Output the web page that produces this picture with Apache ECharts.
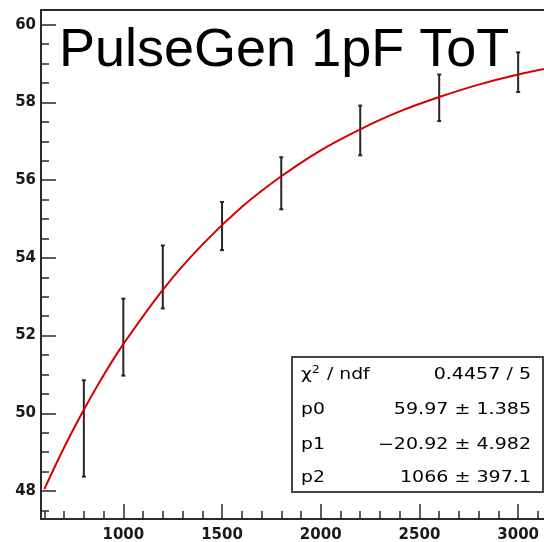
<!DOCTYPE html>
<html>
<head>
<meta charset="utf-8">
<script src="https://cdn.jsdelivr.net/npm/echarts@6/dist/echarts.min.js"></script>
<style>html,body{margin:0;padding:0;background:#fff;}#c{width:544px;height:542px;}</style>
</head>
<body>
<div id="c"></div>
<script>
// ---- data ----
var pointX = [800, 1000, 1200, 1500, 1800, 2200, 2600, 3000];
var pointY = [49.61, 51.96, 53.51, 54.82, 55.92, 57.28, 58.12, 58.78];
var pointErr = [1.24, 0.99, 0.81, 0.62, 0.67, 0.64, 0.60, 0.51];

var fitX = [600, 700, 800, 900, 1000, 1200, 1400, 1600, 1800, 2000, 2200, 2400, 2600, 2800, 3000, 3200];
var fitY = [48.05, 49.12, 50.09, 50.98, 51.78, 53.18, 54.34, 55.31, 56.10, 56.77, 57.31, 57.77, 58.14, 58.46, 58.72, 58.93];

var xMajorTicks = [1000, 1500, 2000, 2500, 3000];
var xMinorTicks = [600, 700, 800, 900, 1100, 1200, 1300, 1400, 1600, 1700, 1800, 1900, 2100, 2200, 2300, 2400, 2600, 2700, 2800, 2900, 3100, 3200];
var yMajorTicks = [48, 50, 52, 54, 56, 58, 60];
var yMinorTicks = [47.5, 48.5, 49, 49.5, 50.5, 51, 51.5, 52.5, 53, 53.5, 54.5, 55, 55.5, 56.5, 57, 57.5, 58.5, 59, 59.5];

var titleText = 'PulseGen 1pF ToT';
var statLabels = ['{n|\u03c7}{s|2}{n| / ndf}', 'p0', 'p1', 'p2'];
var statValues = ['0.4457 / 5', '59.97 \u00b1 1.385', '\u221220.92 \u00b1 4.982', '1066 \u00b1 397.1'];

// ---- chart ----
var X_MIN = 583, X_MAX = 3217, Y_MIN = 47.28, Y_MAX = 60.38;
var axisColor = '#2a2a2a';
var labelFont = { color: '#1a1a1a', fontSize: 15, fontWeight: 'bold', fontFamily: 'DejaVu Sans',
  formatter: function (v) { return String(v); } };

function makeX(major) {
  return {
    type: 'value', min: X_MIN, max: X_MAX, position: 'bottom', gridIndex: 0,
    axisLine: { show: major, onZero: false, lineStyle: { color: axisColor, width: 2 } },
    axisTick: { show: true, inside: true, length: major ? 15 : 8, customValues: major ? xMajorTicks : xMinorTicks,
      lineStyle: { color: axisColor, width: 1.5 } },
    axisLabel: major ? Object.assign({ show: true, margin: 9, customValues: xMajorTicks }, labelFont) : { show: false },
    splitLine: { show: false }
  };
}
function makeY(major) {
  return {
    type: 'value', min: Y_MIN, max: Y_MAX, position: 'left', gridIndex: 0,
    axisLine: { show: major, onZero: false, lineStyle: { color: axisColor, width: 2 } },
    axisTick: { show: true, inside: true, length: major ? 15 : 8, customValues: major ? yMajorTicks : yMinorTicks,
      lineStyle: { color: axisColor, width: 1.5 } },
    axisLabel: major ? Object.assign({ show: true, margin: 5, customValues: yMajorTicks }, labelFont) : { show: false },
    splitLine: { show: false }
  };
}

var errData = pointX.map(function (x, i) { return [x, pointY[i], pointErr[i]]; });
var fitData = fitX.map(function (x, i) { return [x, fitY[i]]; });

var boxFont = '"DejaVu Sans", sans-serif';
var graphics = [
  { type: 'text', left: 59, top: 24, z: 100,
    style: { text: titleText, fill: '#000', font: '54px "Liberation Sans", Arial, sans-serif' } },
  { type: 'rect', z: 100, shape: { x: 292, y: 357, width: 251, height: 135 },
    style: { fill: '#fff', stroke: '#444', lineWidth: 2 } }
];
var rowY = [375, 410, 445, 478];
statLabels.forEach(function (t, i) {
  graphics.push({ type: 'text', z: 101, x: 301, y: rowY[i], scaleX: 1.25,
    style: { text: t, fill: '#000', font: '15px ' + boxFont, textAlign: 'left', textVerticalAlign: 'middle',
      rich: {
        n: { fontSize: 15, fontFamily: 'DejaVu Sans', fill: '#000', verticalAlign: 'middle' },
        s: { fontSize: 10, fontFamily: 'DejaVu Sans', fill: '#000', padding: [0, 1, 9, 0], verticalAlign: 'middle' }
      } } });
});
statValues.forEach(function (t, i) {
  graphics.push({ type: 'text', z: 101, x: 531, y: rowY[i], scaleX: 1.27,
    style: { text: t, fill: '#000', font: '15px ' + boxFont, textAlign: 'right', textVerticalAlign: 'middle' } });
});

var chart = echarts.init(document.getElementById('c'), null, { renderer: 'canvas' });
chart.setOption({
  animation: false,
  backgroundColor: '#fff',
  grid: { left: 41, top: 10, width: 520, bottom: 23, outerBoundsMode: 'none', containLabel: false,
    show: true, borderColor: axisColor, borderWidth: 2, backgroundColor: 'transparent' },
  xAxis: [makeX(true), makeX(false)],
  yAxis: [makeY(true), makeY(false)],
  series: [
    {
      type: 'custom', xAxisIndex: 0, yAxisIndex: 0, z: 2,
      data: errData,
      renderItem: function (params, api) {
        var top = api.coord([api.value(0), api.value(1) + api.value(2)]);
        var bot = api.coord([api.value(0), api.value(1) - api.value(2)]);
        var st = { stroke: '#262626', lineWidth: 2 };
        return {
          type: 'group',
          children: [
            { type: 'line', shape: { x1: top[0], y1: top[1], x2: bot[0], y2: bot[1] }, style: st },
            { type: 'line', shape: { x1: top[0] - 2, y1: top[1], x2: top[0] + 2, y2: top[1] }, style: st },
            { type: 'line', shape: { x1: bot[0] - 2, y1: bot[1], x2: bot[0] + 2, y2: bot[1] }, style: st }
          ]
        };
      }
    },
    {
      type: 'line', xAxisIndex: 0, yAxisIndex: 0, z: 3,
      data: fitData, smooth: 0.35, showSymbol: false, silent: true,
      lineStyle: { color: '#d40000', width: 2 }
    }
  ],
  graphic: graphics
});
</script>
</body>
</html>
